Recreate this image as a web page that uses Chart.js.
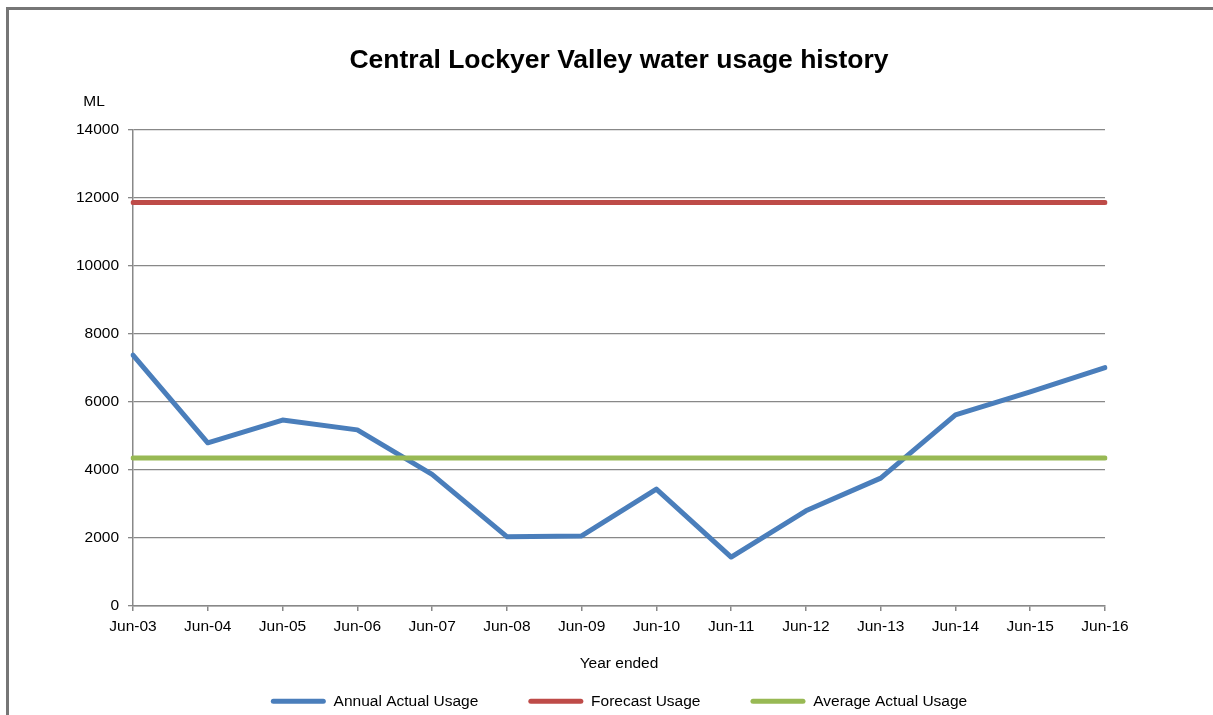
<!DOCTYPE html>
<html>
<head>
<meta charset="utf-8">
<script src="https://cdn.jsdelivr.net/npm/chart.js@4/dist/chart.umd.min.js"></script>
<style>
  html, body { margin: 0; padding: 0; background: #fff; overflow: hidden; }
  #wrap { position: relative; width: 1213px; height: 715px; }
  #frame { position: absolute; left: 6px; top: 7px; width: 1300px; height: 800px;
           border-left: 3px solid #767676; border-top: 3px solid #767676; box-sizing: border-box; }
  canvas { position: absolute; left: 0; top: 0; }
</style>
</head>
<body>
<div id="wrap">
  <div id="frame"></div>
  <canvas id="c" width="1213" height="715"></canvas>
</div>
<script>
// ---- data ----
const categories = ['Jun-03','Jun-04','Jun-05','Jun-06','Jun-07','Jun-08','Jun-09','Jun-10','Jun-11','Jun-12','Jun-13','Jun-14','Jun-15','Jun-16'];
const annualActualUsage = [7380, 4800, 5470, 5180, 3870, 2040, 2060, 3440, 1440, 2800, 3760, 5620, 6300, 7010];
const forecastUsage = [11870, 11870, 11870, 11870, 11870, 11870, 11870, 11870, 11870, 11870, 11870, 11870, 11870, 11870];
const averageActualUsage = [4350, 4350, 4350, 4350, 4350, 4350, 4350, 4350, 4350, 4350, 4350, 4350, 4350, 4350];
const seriesNames = ['Annual Actual Usage', 'Forecast Usage', 'Average Actual Usage'];
const yTickValues = [0, 2000, 4000, 6000, 8000, 10000, 12000, 14000];
const chartTitle = 'Central Lockyer Valley water usage history';
const xAxisTitle = 'Year ended';
const yUnitLabel = 'ML';

const FONT = '"Liberation Sans", Arial, sans-serif';
const GRID = '#888888';

const unitLabelPlugin = {
  id: 'unitLabel',
  afterDraw(chart) {
    const ctx = chart.ctx;
    ctx.save();
    ctx.font = '15.5px ' + FONT;
    ctx.fillStyle = '#000';
    ctx.textAlign = 'center';
    ctx.textBaseline = 'middle';
    ctx.fillText(yUnitLabel, 94, 102);
    ctx.restore();
  }
};

function lineDs(label, data, color, order) {
  return {
    label, data, order,
    borderColor: color, backgroundColor: color,
    borderWidth: 5, pointRadius: 0, pointHoverRadius: 0,
    tension: 0, fill: false,
    borderCapStyle: 'round', borderJoinStyle: 'round'
  };
}

new Chart(document.getElementById('c'), {
  type: 'line',
  data: {
    labels: categories,
    datasets: [
      lineDs(seriesNames[0], annualActualUsage, '#4A7EBB', 3),
      lineDs(seriesNames[1], forecastUsage, '#BE4B48', 2),
      lineDs(seriesNames[2], averageActualUsage, '#98B954', 1)
    ]
  },
  options: {
    responsive: false,
    animation: false,
    events: [],
    layout: { padding: { left: 40, right: 108, top: 0, bottom: -4 } },
    plugins: {
      tooltip: { enabled: false },
      title: {
        display: true, text: chartTitle, fullSize: false,
        color: '#000',
        font: { family: FONT, size: 26.5, weight: 'bold', lineHeight: 1.2 },
        padding: { top: 44.5, bottom: 53.7 }
      },
      legend: {
        display: true, position: 'bottom', fullSize: false,
        labels: {
          color: '#000',
          font: { family: FONT, size: 15.5 },
          boxWidth: 55, boxHeight: 5, padding: 50,
          sort: (a, b) => a.datasetIndex - b.datasetIndex,
          generateLabels(chart) {
            const items = Chart.defaults.plugins.legend.labels.generateLabels(chart);
            items.forEach(it => {
              const ds = chart.data.datasets[it.datasetIndex];
              it.fillStyle = ds.borderColor;
              it.strokeStyle = ds.borderColor;
              it.lineWidth = 0;
              it.borderRadius = 2.5;
            });
            return items;
          }
        }
      }
    },
    scales: {
      x: {
        type: 'category',
        offset: false,
        afterFit(scale) { scale.height = 37.5; },
        grid: { display: true, drawOnChartArea: false, drawTicks: true, tickLength: 5, color: GRID, lineWidth: 1.5 },
        border: { display: true, color: GRID, width: 1.5 },
        ticks: { color: '#000', font: { family: FONT, size: 15.5 }, padding: 6, maxRotation: 0, autoSkip: false },
        title: { display: true, text: xAxisTitle, color: '#000', font: { family: FONT, size: 15.5 }, padding: { top: 0, bottom: -29.8 } }
      },
      y: {
        min: 0, max: 14000,
        afterFit(scale) { scale.width = 93; },
        afterBuildTicks(scale) { scale.ticks = yTickValues.map(v => ({ value: v })); },
        grid: { display: true, drawOnChartArea: true, drawTicks: true, tickLength: 5, color: GRID, lineWidth: 1.3 },
        border: { display: true, color: GRID, width: 1.5 },
        ticks: { color: '#000', font: { family: FONT, size: 15.5 }, padding: 9, callback: v => String(v) }
      }
    }
  },
  plugins: [unitLabelPlugin]
});
</script>
</body>
</html>
